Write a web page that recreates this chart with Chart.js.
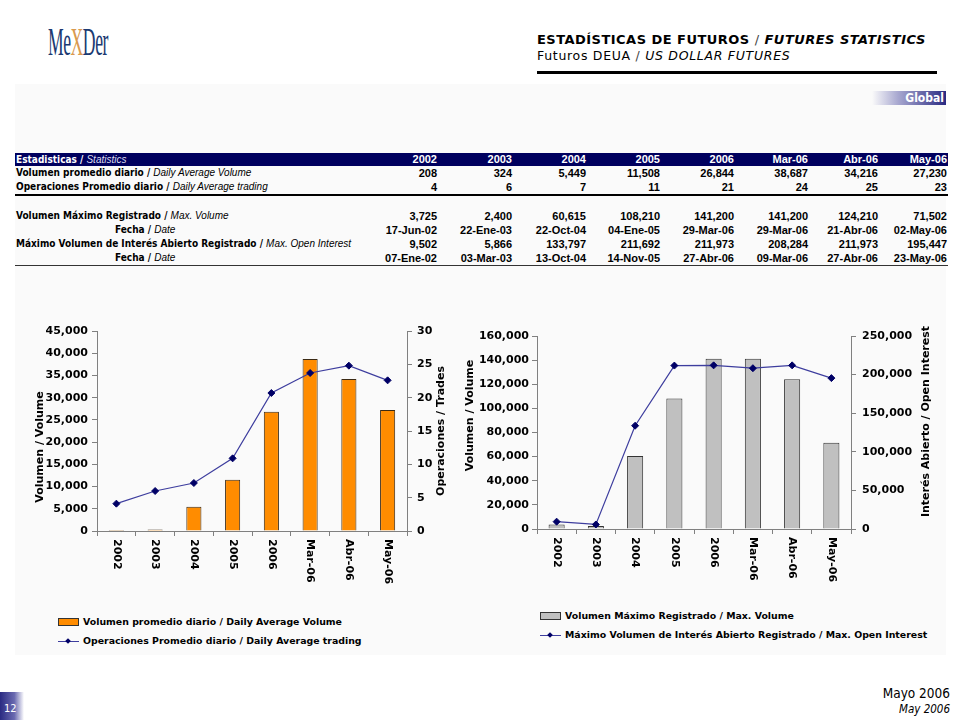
<!DOCTYPE html>
<html>
<head>
<meta charset="utf-8">
<script src="https://cdn.jsdelivr.net/npm/chart.js@4.4.1/dist/chart.umd.min.js"></script>
<style>
    body { margin: 0; background: #fff; }
    #page { position: relative; width: 960px; height: 720px; overflow: hidden; background: #fff; font-family: "DejaVu Sans", Verdana, sans-serif; }
    .abs { position: absolute; }
    #panel { left: 15px; top: 84px; width: 931px; height: 571px; background: #fafafa; }
    #logo { left: 48px; top: 18px; font-family: "Liberation Serif", serif; font-size: 40px; color: #1b3a72; transform: scaleX(0.44); transform-origin: left top; letter-spacing: -1px; white-space: nowrap; }
    #logo .x { color: #d99a4e; }
    #title1 { left: 537px; top: 32px; font-family: "DejaVu Sans", sans-serif; font-weight: bold; font-size: 13px; letter-spacing: 0.47px; color: #000; white-space: nowrap; }
    #title1 .sl, #title2 .sl { font-weight: normal; color: #444; }
    #title2 { left: 537px; top: 48px; font-family: "DejaVu Sans", sans-serif; font-size: 12.5px; letter-spacing: 0.7px; color: #000; white-space: nowrap; }
    #titleLine { left: 537px; top: 71px; width: 400px; height: 3px; background: #000; }
    #global { left: 872px; top: 91px; width: 74px; height: 14px; background: linear-gradient(to right, rgba(255,255,255,0), #a8a8d0 35%, #2a2a82); color: #fff; font: bold 12px "DejaVu Sans Condensed", "DejaVu Sans", sans-serif; text-align: right; line-height: 14px; padding-right: 2px; box-sizing: border-box; }
    #stats { left: 15px; top: 153px; border-collapse: collapse; table-layout: fixed; width: 933px; font-family: "Liberation Sans", Arial, sans-serif; font-size: 11px; color: #000; }
    #stats td { padding: 0 1px 0 0; height: 14px; line-height: 14px; white-space: nowrap; overflow: visible; text-align: right; font-weight: bold; }
    #stats td.lbl { text-align: left; padding-left: 1px; font-family: "DejaVu Sans Condensed", "DejaVu Sans", sans-serif; font-stretch: condensed; font-size: 10px; }
    #stats td.lbl i { font-family: "Liberation Sans", Arial, sans-serif; font-weight: normal; font-size: 10px; }
    #stats td.ind { padding-left: 100px; }
    #stats tr.head td { background: #00005e; color: #fff; height: 13px; line-height: 13px; }
    #stats tr.head td.lbl i { color: #dcdcf0; }
    #stats tr.sep td { border-bottom: 2px solid #000; }
    #stats tr.last td { border-bottom: 1px solid #333; }
    #stats tr.gap td { height: 13px; }
    .legend { position: absolute; font: bold 9.4px "DejaVu Sans", Verdana, sans-serif; color: #000; }
    .lg-item { height: 19px; line-height: 10px; white-space: nowrap; display: flex; align-items: flex-start; }
    .sw-bar { display: inline-block; width: 19px; height: 6px; border: 1px solid #333; margin-right: 4px; margin-top: 1px; }
    .sw-line { display: inline-block; position: relative; width: 21px; height: 1px; background: #3d3d9e; margin-right: 4px; margin-top: 5px; }
    .sw-line::after { content: ""; position: absolute; left: 8px; top: -2px; width: 4px; height: 4px; background: #000066; transform: rotate(45deg); }
    #pageNum { left: 0; top: 692px; width: 24px; height: 28px; background: linear-gradient(to right, #2a2a82, #6a6ab0 60%, rgba(255,255,255,0)); color: #fff; font: 11px "DejaVu Sans Condensed", "DejaVu Sans", sans-serif; padding: 10px 0 0 4px; box-sizing: border-box; }
    #date1 { right: 10px; top: 685px; font: 13.5px "DejaVu Sans Condensed", "DejaVu Sans", sans-serif; color: #000; text-align: right; }
    #date2 { right: 10px; top: 702px; font: italic 11.5px "DejaVu Sans Condensed", "DejaVu Sans", sans-serif; color: #000; text-align: right; }
</style>
</head>
<body>
<div id="page">
    <div id="panel" class="abs"></div>
    <div id="logo" class="abs">Me<span class="x">X</span>Der</div>
    <div id="title1" class="abs">ESTADÍSTICAS DE FUTUROS <span class="sl">/</span> <i>FUTURES STATISTICS</i></div>
    <div id="title2" class="abs">Futuros DEUA <span class="sl">/</span> <i>US DOLLAR FUTURES</i></div>
    <div id="titleLine" class="abs"></div>
    <div id="global" class="abs">Global</div>

    <table id="stats" class="abs">
        <colgroup>
            <col style="width:347px"><col style="width:76px"><col style="width:75px"><col style="width:74px"><col style="width:74px">
            <col style="width:74px"><col style="width:74px"><col style="width:70px"><col style="width:69px">
        </colgroup>
        <tbody id="statsBody"></tbody>
    </table>

    <canvas id="volChart" class="abs" width="440" height="275" style="left:20px;top:318px"></canvas>
    <canvas id="maxChart" class="abs" width="490" height="275" style="left:460px;top:318px"></canvas>

    <div id="legendLeft" class="legend" style="left:58px;top:617px"></div>
    <div id="legendRight" class="legend" style="left:540px;top:611px"></div>

    <div id="pageNum" class="abs">12</div>
    <div id="date1" class="abs">Mayo 2006</div>
    <div id="date2" class="abs">May 2006</div>
</div>

<script>
// Categories (years and months)
const categories = ['2002', '2003', '2004', '2005', '2006', 'Mar-06', 'Abr-06', 'May-06'];

// Daily average volume (bars, left chart) and daily average trades (line, left chart)
const dailyAvgVolume = [208, 324, 5449, 11508, 26844, 38687, 34216, 27230];
const dailyAvgTrades = [4.1, 6.0, 7.2, 10.9, 20.7, 23.7, 24.8, 22.6];

// Max volume (bars, right chart) and max open interest (line, right chart)
const maxVolume = [3725, 2400, 60615, 108210, 141200, 141200, 124210, 71502];
const maxVolumeDate = ['17-Jun-02', '22-Ene-03', '22-Oct-04', '04-Ene-05', '29-Mar-06', '29-Mar-06', '21-Abr-06', '02-May-06'];
const maxOpenInterest = [9502, 5866, 133797, 211692, 211973, 208284, 211973, 195447];
const maxOpenInterestDate = ['07-Ene-02', '03-Mar-03', '13-Oct-04', '14-Nov-05', '27-Abr-06', '09-Mar-06', '27-Abr-06', '23-May-06'];

// Axis ranges
const volTicks = { min: 0, max: 45000, step: 5000 };
const tradeTicks = { min: 0, max: 30, step: 5 };
const maxVolTicks = { min: 0, max: 160000, step: 20000 };
const openIntTicks = { min: 0, max: 250000, step: 50000 };

// Series labels
const labelAvgVolume = 'Volumen promedio diario / Daily Average Volume';
const labelAvgTrades = 'Operaciones Promedio diario / Daily Average trading';
const labelMaxVolume = 'Volumen Máximo Registrado / Max. Volume';
const labelOpenInterest = 'Máximo Volumen de Interés Abierto Registrado / Max. Open Interest';

const AXIS_FONT = 'bold 11px "DejaVu Sans", Verdana, sans-serif';
const AXIS_COLOR = '#808080';
const LINE_COLOR = '#3d3d9e';
const MARKER_COLOR = '#000066';

const fmt = v => v.toLocaleString('en-US');

// ---- statistics table ----
function buildTable() {
    const rows = [];
    rows.push(`<tr class="head"><td class="lbl">Estadisticas / <i>Statistics</i></td>${categories.map(c => `<td>${c}</td>`).join('')}</tr>`);
    rows.push(`<tr><td class="lbl">Volumen promedio diario / <i>Daily Average Volume</i></td>${dailyAvgVolume.map(v => `<td>${fmt(v)}</td>`).join('')}</tr>`);
    rows.push(`<tr class="sep"><td class="lbl">Operaciones Promedio diario / <i>Daily Average trading</i></td>${dailyAvgTrades.map(v => `<td>${Math.round(v)}</td>`).join('')}</tr>`);
    rows.push(`<tr class="gap"><td colspan="9"></td></tr>`);
    rows.push(`<tr><td class="lbl">Volumen Máximo Registrado / <i>Max. Volume</i></td>${maxVolume.map(v => `<td>${fmt(v)}</td>`).join('')}</tr>`);
    rows.push(`<tr><td class="lbl ind">Fecha / <i>Date</i></td>${maxVolumeDate.map(v => `<td>${v}</td>`).join('')}</tr>`);
    rows.push(`<tr><td class="lbl">Máximo Volumen de Interés Abierto Registrado / <i>Max. Open Interest</i></td>${maxOpenInterest.map(v => `<td>${fmt(v)}</td>`).join('')}</tr>`);
    rows.push(`<tr class="last"><td class="lbl ind">Fecha / <i>Date</i></td>${maxOpenInterestDate.map(v => `<td>${v}</td>`).join('')}</tr>`);
    document.getElementById('statsBody').innerHTML = rows.join('');
}

// ---- legends ----
function buildLegend(id, barLabel, barColor, lineLabel) {
    document.getElementById(id).innerHTML = `
        <div class="lg-item"><span class="sw-bar" style="background:${barColor}"></span>${barLabel}</div>
        <div class="lg-item"><span class="sw-line"></span>${lineLabel}</div>
    `;
}

// Draws vertical x labels (reading downward) and both axis titles (reading upward)
const axisText = {
    id: 'axisText',
    afterDraw(chart, args, opts) {
        const ctx = chart.ctx;
        const x = chart.scales.x;
        const area = chart.chartArea;
        const midY = (area.top + area.bottom) / 2;
        ctx.save();
        ctx.fillStyle = '#000';
        ctx.font = AXIS_FONT;

        ctx.textAlign = 'left';
        ctx.textBaseline = 'middle';
        categories.forEach((c, i) => {
            ctx.save();
            ctx.translate(x.getPixelForValue(i), x.top + 8);
            ctx.rotate(Math.PI / 2);
            ctx.fillText(c, 0, 0);
            ctx.restore();
        });

        ctx.textAlign = 'center';
        [[opts.leftTitle, opts.leftX, opts.leftDy], [opts.rightTitle, opts.rightX, opts.rightDy]].forEach(([txt, tx, dy]) => {
            ctx.save();
            ctx.translate(tx, midY + dy);
            ctx.rotate(-Math.PI / 2);
            ctx.fillText(txt, 0, 0);
            ctx.restore();
        });
        ctx.restore();
    }
};

function yScale(position, range, width, pad) {
    return {
        type: 'linear',
        position: position,
        min: range.min,
        max: range.max,
        afterFit: s => { s.width = width; },
        border: { color: AXIS_COLOR, width: 1 },
        grid: { drawOnChartArea: false, drawTicks: true, tickLength: 5, color: AXIS_COLOR },
        ticks: {
            stepSize: range.step,
            padding: pad,
            color: '#000',
            font: { family: '"DejaVu Sans", Verdana, sans-serif', size: 11, weight: 'bold' },
            callback: v => fmt(v)
        }
    };
}

function makeChart(canvasId, cfg) {
    return new Chart(document.getElementById(canvasId).getContext('2d'), {
        type: 'bar',
        data: {
            labels: categories,
            datasets: [
                {
                    type: 'line',
                    label: cfg.lineLabel,
                    data: cfg.lineData,
                    yAxisID: 'y1',
                    order: 0,
                    borderColor: LINE_COLOR,
                    borderWidth: 1.2,
                    tension: 0,
                    pointStyle: 'rectRot',
                    pointRadius: 3.5,
                    pointBackgroundColor: MARKER_COLOR,
                    pointBorderColor: MARKER_COLOR,
                    pointBorderWidth: 1
                },
                {
                    type: 'bar',
                    label: cfg.barLabel,
                    data: cfg.barData,
                    yAxisID: 'y',
                    order: 1,
                    backgroundColor: cfg.barColor,
                    borderColor: cfg.barBorder,
                    borderWidth: 1,
                    barPercentage: cfg.barPct,
                    categoryPercentage: 1
                }
            ]
        },
        options: {
            responsive: false,
            animation: false,
            layout: { padding: { top: cfg.padTop, left: 0, right: 0, bottom: 0 } },
            plugins: {
                legend: { display: false },
                tooltip: { enabled: false },
                axisText: cfg.titles
            },
            scales: {
                x: {
                    type: 'category',
                    offset: true,
                    afterFit: s => { s.height = cfg.xHeight; },
                    border: { color: AXIS_COLOR, width: 1 },
                    grid: { offset: true, drawOnChartArea: false, drawTicks: true, tickLength: 5, color: AXIS_COLOR },
                    ticks: { display: false }
                },
                y: yScale('left', cfg.leftRange, cfg.leftWidth, cfg.leftPad),
                y1: yScale('right', cfg.rightRange, cfg.rightWidth, cfg.rightPad)
            }
        },
        plugins: [axisText]
    });
}

document.addEventListener('DOMContentLoaded', () => {
    buildTable();
    buildLegend('legendLeft', labelAvgVolume, '#FF8C00', labelAvgTrades);
    buildLegend('legendRight', labelMaxVolume, '#C0C0C0', labelOpenInterest);

    makeChart('volChart', {
        barLabel: labelAvgVolume, barData: dailyAvgVolume, barColor: '#FF8C00', barBorder: '#3b2a14', barPct: 0.39,
        lineLabel: labelAvgTrades, lineData: dailyAvgTrades,
        leftRange: volTicks, rightRange: tradeTicks,
        leftWidth: 77, rightWidth: 53, leftPad: 4, rightPad: 5,
        padTop: 13, xHeight: 62,
        titles: { leftTitle: 'Volumen / Volume', leftX: 20, leftDy: 16, rightTitle: 'Operaciones / Trades', rightX: 421, rightDy: 0 }
    });

    makeChart('maxChart', {
        barLabel: labelMaxVolume, barData: maxVolume, barColor: '#C0C0C0', barBorder: '#333333', barPct: 0.41,
        lineLabel: labelOpenInterest, lineData: maxOpenInterest,
        leftRange: maxVolTicks, rightRange: openIntTicks,
        leftWidth: 77, rightWidth: 99, leftPad: 3, rightPad: 6,
        padTop: 18, xHeight: 64,
        titles: { leftTitle: 'Volumen / Volume', leftX: 10, leftDy: -17, rightTitle: 'Interés Abierto / Open Interest', rightX: 466, rightDy: -11 }
    });
});
</script>
</body>
</html>
